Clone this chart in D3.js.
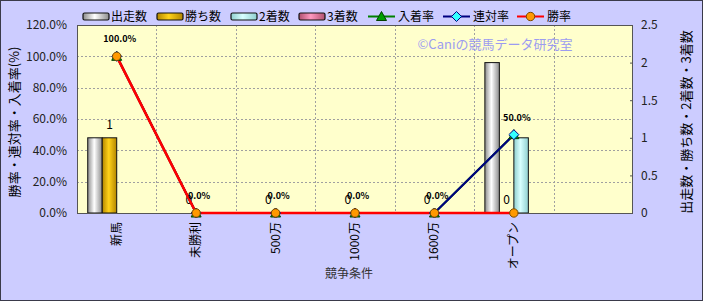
<!DOCTYPE html>
<html>
<head>
<meta charset="utf-8">
<script src="https://cdn.jsdelivr.net/npm/d3@7"></script>
<style>
  body { margin: 0; background: #fff; }
  svg text { font-family: "Noto Sans CJK JP", "DejaVu Sans", sans-serif; }
</style>
</head>
<body>
<div id="chart"></div>
<script>
// --- data ---
const categories = ["新馬", "未勝利", "500万", "1000万", "1600万", "オープン", ""];
const starts   = [1, 0, 0, 0, 0, 2];
const wins     = [1, 0, 0, 0, 0, 0];
const seconds  = [0, 0, 0, 0, 0, 1];
const thirds   = [0, 0, 0, 0, 0, 0];
const winRate     = [100, 0, 0, 0, 0, 0];
const rentaiRate  = [100, 0, 0, 0, 0, 50];
const placeRate   = [100, 0, 0, 0, 0, 50];
const leftTicks  = [0, 20, 40, 60, 80, 100, 120];
const rightTicks = [0, 0.5, 1, 1.5, 2, 2.5];

const W = 703, H = 301;
const m = { left: 77, right: 633, top: 25, bottom: 213 };

const svg = d3.select("#chart").append("svg")
    .attr("width", W).attr("height", H);

const defs = svg.append("defs");
function grad(id, edge, mid) {
    const g = defs.append("linearGradient").attr("id", id)
        .attr("x1", "0%").attr("x2", "100%").attr("y1", "0%").attr("y2", "0%");
    g.append("stop").attr("offset", "0%").attr("stop-color", edge);
    g.append("stop").attr("offset", "45%").attr("stop-color", mid);
    g.append("stop").attr("offset", "100%").attr("stop-color", edge);
}
grad("gStart", "#8c8c8c", "#ffffff");
grad("gWin", "#b38600", "#ffd21a");
grad("gSecond", "#8fcfcf", "#d8ffff");
grad("gThird", "#b0506f", "#ff99c0");

// background
svg.append("rect").attr("x", 0.5).attr("y", 0.5).attr("width", W - 1).attr("height", H - 1)
    .attr("fill", "#ccccff").attr("stroke", "#3a3a4a").attr("stroke-width", 1);

const x = d3.scaleBand().domain(categories).range([m.left, m.right]).padding(0);
const yL = d3.scaleLinear().domain([0, 120]).range([m.bottom, m.top]);
const yR = d3.scaleLinear().domain([0, 2.5]).range([m.bottom, m.top]);

// plot area
svg.append("rect").attr("x", m.left).attr("y", m.top)
    .attr("width", m.right - m.left).attr("height", m.bottom - m.top)
    .attr("fill", "#ffffcc");

// grid
const grid = svg.append("g").attr("stroke", "#a0a0a0").attr("stroke-dasharray", "2,2").attr("stroke-width", 1);
leftTicks.slice(1, -1).forEach(t => {
    grid.append("line").attr("x1", m.left).attr("x2", m.right)
        .attr("y1", Math.round(yL(t)) + 0.5).attr("y2", Math.round(yL(t)) + 0.5);
});
categories.slice(1).forEach(c => {
    const gx = Math.round(x(c)) + 0.5;
    grid.append("line").attr("x1", gx).attr("x2", gx).attr("y1", m.top).attr("y2", m.bottom);
});

// watermark
svg.append("text").attr("x", 495).attr("y", 49).attr("text-anchor", "middle")
    .attr("font-size", 13).attr("fill", "#9c9cf0").text("©Caniの競馬データ研究室");

// bars
const barSeries = [
    { name: "出走数", values: starts, fill: "url(#gStart)" },
    { name: "勝ち数", values: wins, fill: "url(#gWin)" },
    { name: "2着数", values: seconds, fill: "url(#gSecond)" },
    { name: "3着数", values: thirds, fill: "url(#gThird)" }
];
const inner = d3.scaleBand().domain(d3.range(barSeries.length))
    .range([0, x.bandwidth()]).paddingOuter(0.74).paddingInner(0);
const gBars = svg.append("g");
barSeries.forEach((s, si) => {
    gBars.selectAll(null).data(s.values.map((v, i) => ({ v, c: categories[i] })))
        .enter().filter(d => d.v > 0)
        .append("rect")
        .attr("x", d => x(d.c) + inner(si))
        .attr("y", d => yR(d.v))
        .attr("width", inner.bandwidth())
        .attr("height", d => m.bottom - yR(d.v))
        .attr("fill", s.fill)
        .attr("stroke", "#111").attr("stroke-width", 1);
});
// 勝ち数 labels
svg.append("g").selectAll("text").data(wins.map((v, i) => ({ v, c: categories[i] })))
    .enter().append("text")
    .attr("x", d => x(d.c) + inner(1) + inner.bandwidth() / 2)
    .attr("y", d => yR(d.v) - 9)
    .attr("text-anchor", "middle").attr("font-size", 12).attr("fill", "#000")
    .text(d => d.v);

// plot frame / axes
svg.append("rect").attr("x", m.left + 0.5).attr("y", m.top + 0.5)
    .attr("width", m.right - m.left - 1).attr("height", m.bottom - m.top)
    .attr("fill", "none").attr("stroke", "#555");

// lines
const lineCats = categories.slice(0, 6);
const line = d3.line().x((d, i) => x(lineCats[i]) + x.bandwidth() / 2).y(d => yL(d));
const lineSeries = [
    { name: "入着率", values: placeRate, color: "#008000", marker: "tri", mfill: "#00a000", w: 2 },
    { name: "連対率", values: rentaiRate, color: "#000080", marker: "dia", mfill: "#33ffff", w: 2.2 },
    { name: "勝率", values: winRate, color: "#ff0000", marker: "circ", mfill: "#ff9900", w: 2.6 }
];
function marker(g, type, cx, cy, fill, stroke) {
    if (type === "circ") {
        g.append("circle").attr("cx", cx).attr("cy", cy).attr("r", 4.2)
            .attr("fill", fill).attr("stroke", "#7a4a00").attr("stroke-width", 1);
    } else if (type === "dia") {
        g.append("path").attr("d", `M${cx},${cy - 5}L${cx + 5},${cy}L${cx},${cy + 5}L${cx - 5},${cy}Z`)
            .attr("fill", fill).attr("stroke", stroke).attr("stroke-width", 1);
    } else {
        g.append("path").attr("d", `M${cx},${cy - 5}L${cx + 5},${cy + 4}L${cx - 5},${cy + 4}Z`)
            .attr("fill", fill).attr("stroke", "#004000").attr("stroke-width", 1);
    }
}
const gLines = svg.append("g");
lineSeries.forEach(s => {
    gLines.append("path").datum(s.values).attr("d", line)
        .attr("fill", "none").attr("stroke", s.color).attr("stroke-width", s.w);
});
lineSeries.forEach(s => {
    s.values.forEach((v, i) => {
        marker(gLines, s.marker, x(lineCats[i]) + x.bandwidth() / 2, yL(v), s.mfill, s.color);
    });
});
// 入着率 labels
svg.append("g").selectAll("text").data(placeRate.map((v, i) => ({ v, c: lineCats[i] })))
    .enter().append("text")
    .attr("x", d => x(d.c) + x.bandwidth() / 2 + 3)
    .attr("y", d => yL(d.v) - 14)
    .attr("text-anchor", "middle").attr("font-size", 9).attr("font-weight", "bold")
    .attr("font-family", "'DejaVu Sans', sans-serif")
    .text(d => d.v.toFixed(1) + "%");

// left axis
const axL = svg.append("g").attr("transform", `translate(${m.left},0)`)
    .call(d3.axisLeft(yL).tickValues(leftTicks).tickSize(0).tickPadding(10).tickFormat(d => d.toFixed(1) + "%"));
axL.select(".domain").remove();
axL.selectAll("text").attr("font-size", 12).attr("fill", "#222")
    .attr("font-family", "'Liberation Sans', Arial, sans-serif");

// right axis
const axR = svg.append("g").attr("transform", `translate(${m.right},0)`)
    .call(d3.axisRight(yR).tickValues(rightTicks).tickSize(-3).tickPadding(8).tickFormat(d3.format("")));
axR.select(".domain").remove();
axR.selectAll("line").attr("stroke", "#555");
axR.selectAll("text").attr("font-size", 12).attr("fill", "#222")
    .attr("font-family", "'Liberation Sans', Arial, sans-serif");

// x tick labels
svg.append("g").selectAll("text").data(lineCats).enter().append("text")
    .attr("transform", d => `translate(${x(d) + x.bandwidth() / 2 + 4},222) rotate(-90)`)
    .attr("text-anchor", "end").attr("font-size", 12).attr("fill", "#000")
    .text(d => d);

// axis titles
svg.append("text").attr("transform", "translate(19,122) rotate(-90)")
    .attr("text-anchor", "middle").attr("font-size", 13).attr("fill", "#000")
    .text("勝率・連対率・入着率(%)");
svg.append("text").attr("transform", "translate(691,122) rotate(-90)")
    .attr("text-anchor", "middle").attr("font-size", 13).attr("fill", "#000")
    .text("出走数・勝ち数・2着数・3着数");
svg.append("text").attr("x", 349).attr("y", 278).attr("text-anchor", "middle")
    .attr("font-size", 12).attr("fill", "#333").text("競争条件");

// legend
const legend = svg.append("g").attr("font-size", 12);
const legendX = [83, 157, 231, 299, 368, 443, 517];
barSeries.forEach((s, i) => {
    const lx = legendX[i];
    legend.append("rect").attr("x", lx).attr("y", 13).attr("width", 26).attr("height", 7).attr("rx", 1.5)
        .attr("fill", s.fill).attr("stroke", "#111").attr("stroke-width", 1.2);
    legend.append("text").attr("x", lx + 28).attr("y", 21).text(s.name);
});
lineSeries.forEach((s, i) => {
    const lx = legendX[4 + i];
    legend.append("line").attr("x1", lx).attr("x2", lx + 27).attr("y1", 16.5).attr("y2", 16.5)
        .attr("stroke", s.color).attr("stroke-width", 2);
    marker(legend, s.marker, lx + 13.5, 16.5, s.mfill, s.color);
    legend.append("text").attr("x", lx + 30).attr("y", 21).text(s.name);
});
</script>
</body>
</html>
